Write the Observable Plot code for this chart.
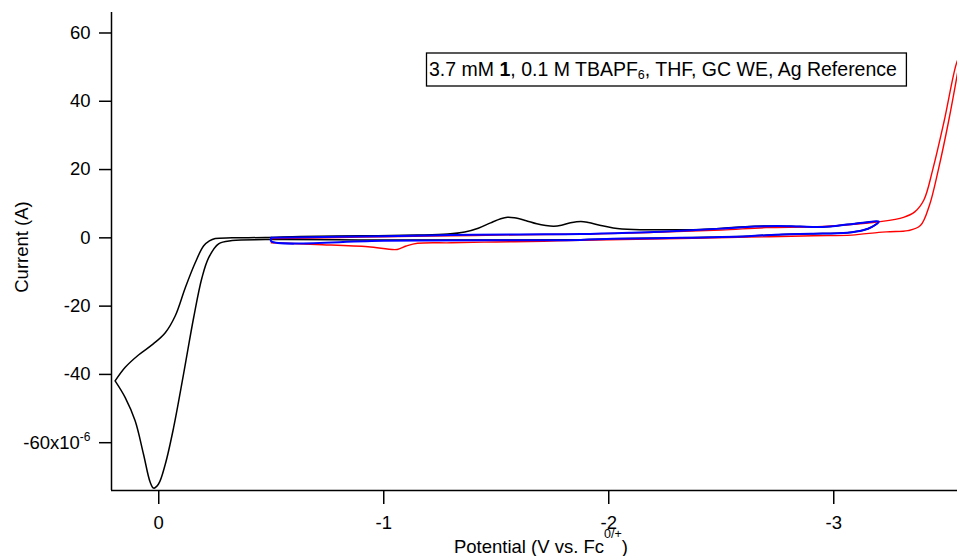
<!DOCTYPE html>
<html>
<head>
<meta charset="utf-8">
<script src="https://cdn.jsdelivr.net/npm/d3@7"></script>
<script src="https://cdn.jsdelivr.net/npm/@observablehq/plot@0.6"></script>
<style>
  html, body { margin: 0; padding: 0; background: #fff; }
  svg { display: block; }
</style>
</head>
<body>
<script>
// ---- data (potential in V vs Fc0/+, current in µA) ----
const xTicks = [0, -1, -2, -3];
const yTicks = [-60, -40, -20, 0, 20, 40, 60];

const blackCurve = [
  [0.194, -41.9], [0.149, -37.9], [0.090, -34.3], [0.023, -31.0], [-0.029, -27.8],
  [-0.073, -22.9], [-0.118, -14.6], [-0.162, -7.3], [-0.199, -2.4], [-0.225, -0.9],
  [-0.251, -0.2], [-0.326, 0.0], [-0.474, 0.1], [-0.63, 0.4], [-0.9, 0.6],
  [-1.15, 0.8], [-1.285, 1.1], [-1.36, 1.7], [-1.42, 2.8], [-1.475, 4.4],
  [-1.52, 5.6], [-1.55, 6.05], [-1.58, 5.9], [-1.63, 5.1], [-1.68, 4.1],
  [-1.72, 3.6], [-1.756, 3.4], [-1.79, 3.7], [-1.83, 4.4], [-1.876, 4.8],
  [-1.91, 4.5], [-1.96, 3.7], [-2.02, 2.9], [-2.11, 2.45], [-2.25, 2.4],
  [-2.41, 2.45], [-2.55, 3.0], [-2.65, 3.4], [-2.74, 3.5], [-2.85, 3.3],
  [-2.95, 3.2], [-3.06, 3.9], [-3.15, 4.6], [-3.2, 4.7],
  [-3.17, 3.2], [-3.13, 2.2], [-3.06, 1.5], [-2.9, 1.2], [-2.77, 1.0],
  [-2.62, 0.5], [-2.45, 0.2], [-2.32, 0.0], [-2.02, -0.3], [-1.875, -0.55],
  [-1.5, -0.6], [-1.0, -0.6], [-0.474, -0.5], [-0.326, -0.8], [-0.266, -1.75],
  [-0.222, -5.8], [-0.192, -11.7], [-0.155, -23.4], [-0.110, -40.0], [-0.066, -55.6],
  [-0.029, -66.3], [0.001, -72.1], [0.023, -73.3], [0.038, -71.6], [0.068, -63.3],
  [0.105, -53.6], [0.149, -46.8], [0.194, -41.9]
];

const redCurve = [
  [-0.50, -0.2], [-0.8, 0.1], [-1.0, 0.3], [-1.3, 0.6], [-1.6, 0.9],
  [-1.9, 1.1], [-2.2, 1.6], [-2.5, 2.3], [-2.7, 3.0], [-2.9, 3.2],
  [-3.06, 3.8], [-3.2, 4.7], [-3.31, 6.0], [-3.36, 7.6], [-3.40, 11.0],
  [-3.44, 20.0], [-3.49, 34.0], [-3.545, 51.0], [-3.565, 54.0],
  [-3.56, 52.0], [-3.51, 34.0], [-3.465, 20.0], [-3.425, 9.5], [-3.385, 3.6],
  [-3.33, 2.1], [-3.25, 1.8], [-3.2, 1.6], [-3.08, 0.8], [-2.91, 0.6],
  [-2.62, 0.2], [-2.32, -0.2], [-1.875, -0.7], [-1.71, -1.0], [-1.5, -1.2],
  [-1.30, -1.45], [-1.15, -1.6], [-1.10, -2.4], [-1.06, -3.4], [-0.93, -2.6],
  [-0.70, -1.95], [-0.50, -1.45]
];

const blueCurve = [
  [-0.5, 0.0], [-0.8, 0.3], [-1.0, 0.5], [-1.3, 0.8], [-1.6, 1.0],
  [-1.875, 1.1], [-2.1, 1.5], [-2.3, 2.0], [-2.5, 2.7], [-2.65, 3.3],
  [-2.75, 3.5], [-2.85, 3.3], [-2.95, 3.2], [-3.06, 3.9], [-3.15, 4.6],
  [-3.2, 4.8], [-3.17, 3.2], [-3.13, 2.2], [-3.06, 1.5], [-2.9, 1.2],
  [-2.77, 1.0], [-2.62, 0.5], [-2.32, 0.0], [-2.02, -0.3], [-1.875, -0.6],
  [-1.5, -0.7], [-1.0, -0.85], [-0.5, -1.0], [-0.5, 0.0]
];

const xDomain = [0.21, -3.55];
const yDomain = [-74, 66];

const FONT = "'Liberation Sans', Arial, sans-serif";

const svg = Plot.plot({
  width: 957,
  height: 556,
  marginLeft: 111,
  marginRight: 0,
  marginTop: 12,
  marginBottom: 66,
  style: { fontFamily: FONT, fontSize: "18.5px", color: "#000", background: "#fff", overflow: "visible" },
  x: { domain: xDomain, ticks: xTicks, tickFormat: d => String(d), tickSize: 14, tickPadding: 11, label: null },
  y: { domain: yDomain, ticks: yTicks, tickFormat: d => d === -60 ? "-60x10" : String(d), tickSize: 12, tickPadding: 9, label: null },
  marks: [
    Plot.line(blackCurve, { x: d => d[0], y: d => d[1], stroke: "#000", strokeWidth: 1.5, curve: "catmull-rom", clip: true }),
    Plot.line(redCurve, { x: d => d[0], y: d => d[1], stroke: "#ff0000", strokeWidth: 1.4, curve: "catmull-rom", clip: true }),
    Plot.line(blueCurve, { x: d => d[0], y: d => d[1], stroke: "#0000ff", strokeWidth: 2, curve: "catmull-rom", clip: true }),
    Plot.ruleX([xDomain[0]], { stroke: "#000", strokeWidth: 1.5 }),
    Plot.ruleY([yDomain[0]], { stroke: "#000", strokeWidth: 1.5 })
  ]
});
document.body.appendChild(svg);

const s = d3.select(svg);
// superscript on the -60 tick label
s.selectAll("text").filter(function () { return this.textContent === "-60x10"; })
  .append("tspan").attr("dy", "-0.6em").attr("font-size", "12px").text("-6");
// thicker tick marks
s.selectAll("g[aria-label$='tick'] path, g.tick line").attr("stroke-width", 1.5);

// axis titles
s.append("text")
  .attr("transform", "translate(28,247) rotate(-90)")
  .attr("text-anchor", "middle")
  .attr("font-family", FONT).attr("font-size", "18.5px").attr("fill", "#000")
  .text("Current (A)");

const xt = s.append("text")
  .attr("x", 541).attr("y", 553)
  .attr("text-anchor", "middle")
  .attr("font-family", FONT).attr("font-size", "18.5px").attr("fill", "#000");
xt.append("tspan").text("Potential (V vs. Fc");
xt.append("tspan").attr("dy", -15).attr("font-size", "12.5px").text("0/+");
xt.append("tspan").attr("dy", 15).text(")");

// annotation box
const ag = s.append("g");
const at = ag.append("text")
  .attr("x", 429).attr("y", 76)
  .attr("text-anchor", "start")
  .attr("font-family", FONT).attr("font-size", "19.5px").attr("fill", "#000");
at.append("tspan").text("3.7 mM ");
at.append("tspan").attr("font-weight", "bold").text("1");
at.append("tspan").text(", 0.1 M TBAPF");
at.append("tspan").attr("dy", 3).attr("font-size", "12.5px").text("6");
at.append("tspan").attr("dy", -3).text(", THF, GC WE, Ag Reference");
const bb = at.node().getBBox();
ag.insert("rect", "text")
  .attr("x", bb.x - 2.5).attr("y", 53)
  .attr("width", bb.width + 12).attr("height", 33)
  .attr("fill", "#fff").attr("stroke", "#000").attr("stroke-width", 1.3);
</script>
</body>
</html>
